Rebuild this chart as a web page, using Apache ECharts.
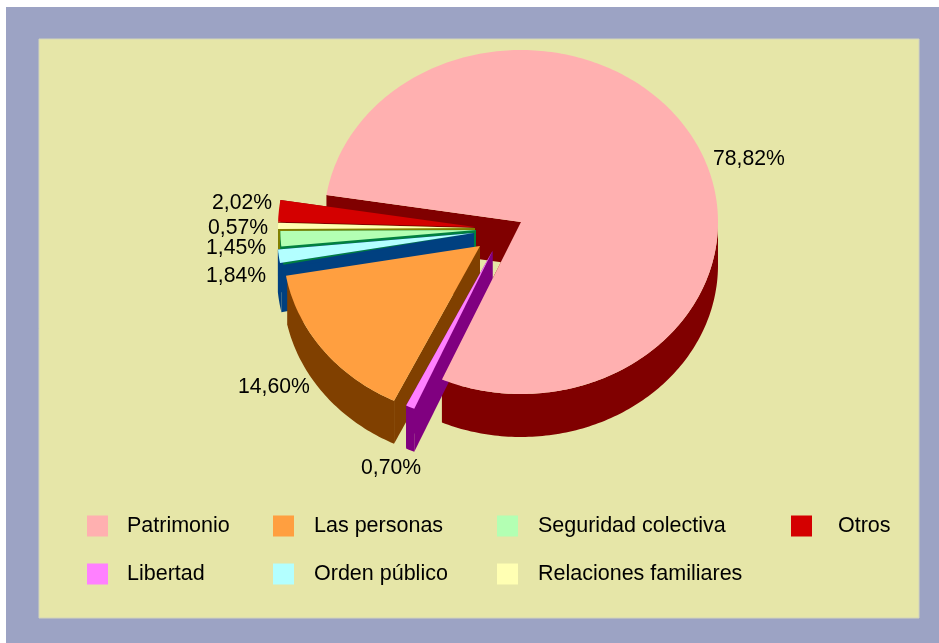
<!DOCTYPE html>
<html><head><meta charset="utf-8">
<style>html,body{margin:0;padding:0;background:#fff}#c{width:939px;height:643px}</style>
<script src="https://cdn.jsdelivr.net/npm/echarts@6/dist/echarts.min.js"></script>
</head><body><div id="c"></div>
<script>
// ---- data (clockwise around the pie) ----
const categories = ['Patrimonio','Libertad','Las personas','Orden público','Seguridad colectiva','Relaciones familiares','Otros'];
const shares = [78.82,0.70,14.60,1.84,1.45,0.57,2.02];

// ---- look ----
const topColors  = ['#FFB0B0','#FF80FF','#FF9F40','#B3FFFF','#B3FFB3','#FFFFB3','#D40000'];
const sideColors = ['#800000','#800080','#804000','#004080','#008040','#808000','#800000'];
const START_DEG = 171, RX = 197, RY = 172, DEPTH = 43, CX = 521, CY = 222;
// exploded apex offset, radius factor, top-face angle trim [start,end] in deg, label anchor, stacking
const explode = [[0,0],[-28.5,29],[-41,24],[-47,11],[-45,8],[-46,6],[-46,5]];
const radius  = [1,1,1,1,0.993,1,1];
const topTrim = [[0,-0.9],[-0.65,-0.73],[-0.6,-2.17],[-2.1,0],[0,0],[0,0],[0,0]];
const wallsFollowTrim = [[false,true],[true,true],[true,false],[false,false],[false,false],[false,false],[false,false]];
const labelAt = [[713,159],[361,468],[238,387],[206,276],[206,248],[208,228],[212,203]];
const stack   = [0,60,50,40,30,20,10];
const legendAt = [[87,515],[87,563],[273,515],[273,563],[497,515],[497,563],[791,515]];
const legendGap = [14,14,15,15,15,15,21];

function pt(ax,ay,r,deg){const a=deg*Math.PI/180;return [ax+RX*r*Math.cos(a),ay-RY*r*Math.sin(a)];}
function arc(ax,ay,r,from,to){const n=Math.max(2,Math.ceil(Math.abs(to-from)));const p=[];
  for(let i=0;i<=n;i++)p.push(pt(ax,ay,r,from+(to-from)*i/n));return p;}
function down(p,d){return [p[0],p[1]+d];}

function renderSlice(params,api){
  const i=params.seriesIndex, v=api.value(0);
  const before=shares.slice(0,i).reduce((a,b)=>a+b,0);
  const from=START_DEG-before*3.6, to=from-v*3.6;            // clockwise
  const ax=CX+explode[i][0], ay=CY+explode[i][1], r=radius[i], z=stack[i];
  const kids=[]; const side=sideColors[i];
  const poly=(points,fill,z2)=>kids.push({type:'polygon',shape:{points},style:{fill,stroke:null},z2});
  const a=[ax,ay];
  const tf=from+topTrim[i][0], tt=to+topTrim[i][1];
  const wallFrom = wallsFollowTrim[i][0] ? tf : from, wallTo = wallsFollowTrim[i][1] ? tt : to;
  // radial walls
  [wallFrom,wallTo].forEach(t=>{const e=pt(ax,ay,r,t);poly([a,e,down(e,DEPTH),down(a,DEPTH)],side,z+1);});
  // outer wall: front half only
  const lo=Math.min(wallFrom,wallTo),hi=Math.max(wallFrom,wallTo);
  const ranges=[[Math.max(lo,-180),Math.min(hi,0)],[Math.max(lo,180),Math.min(hi,360)]];
  ranges.forEach(g=>{ if(g[1]>g[0]){const ar=arc(ax,ay,r,g[0],g[1]);
    poly(ar.concat(ar.map(p=>down(p,DEPTH)).reverse()),side,z+2);} });
  // wedge in side colour where the top face is trimmed, with the neighbour's edge line
  if(i===3){ poly([a].concat(arc(ax,ay,r,from,to)),side,z+3);
             poly([a].concat(arc(ax,ay,0.985,tf,tf+0.7)),sideColors[4],z+4); }
  // top face
  const topZ = i===0 ? 90 : z+5;
  poly([a].concat(arc(ax,ay,r,tf,tt)),topColors[i],topZ);
  // value label
  kids.push({type:'text',z2:95,style:{x:labelAt[i][0],y:labelAt[i][1],
    text:v.toFixed(2).replace('.',',')+'%',font:'21.2px "Liberation Sans", Arial, sans-serif',
    fill:'#000',textAlign:'left',textVerticalAlign:'middle'}});
  return {type:'group',children:kids};
}

const chart=echarts.init(document.getElementById('c'),null,{renderer:'canvas'});
chart.setOption({
  animation:false,
  backgroundColor:'#fff',
  graphic:[
    {type:'rect',z:-2,silent:true,shape:{x:6,y:7,width:933,height:636},style:{fill:'#9CA3C4'}},
    {type:'rect',z:-1,silent:true,shape:{x:39,y:39,width:880,height:579},style:{fill:'#E6E6A8',stroke:'#D3D5BC',lineWidth:1}}
  ],
  legend:categories.map((name,i)=>({
    data:[{name,icon:'rect'}],left:legendAt[i][0],top:legendAt[i][1],padding:0,
    itemWidth:21,itemHeight:21,selectedMode:false,
    textStyle:{color:'#000',fontFamily:'"Liberation Sans", Arial, sans-serif',fontSize:21.5,lineHeight:20,padding:[0,0,0,legendGap[i]]}
  })),
  series:categories.map((name,i)=>({
    type:'custom',name,coordinateSystem:'none',silent:true,clip:false,
    itemStyle:{color:topColors[i]},
    renderItem:renderSlice,
    data:[[shares[i]]]
  }))
});
</script></body></html>
